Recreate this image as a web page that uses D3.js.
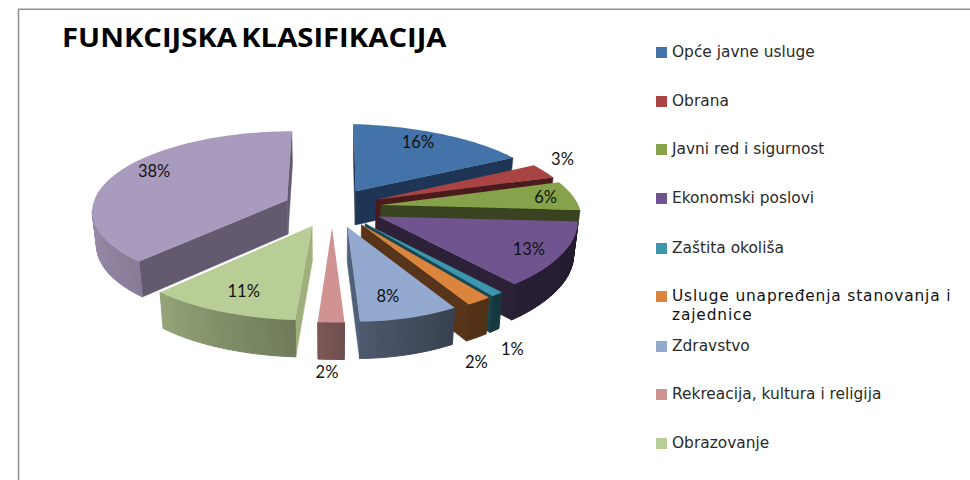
<!DOCTYPE html>
<html>
<head>
<meta charset="utf-8">
<script src="https://cdnjs.cloudflare.com/ajax/libs/d3/7.8.5/d3.min.js"></script>
<style>
  html, body { margin: 0; padding: 0; background: #fff; }
  svg { display: block; }
</style>
</head>
<body>
<div id="pie_chart"></div>
<script>
var chart_title = "FUNKCIJSKA KLASIFIKACIJA";

// legend has no row for the last slice, same as the original
var categories = ["Opće javne usluge", "Obrana", "Javni red i sigurnost", "Ekonomski poslovi",
                  "Zaštita okoliša", "Usluge unapređenja stanovanja i zajednice", "Zdravstvo",
                  "Rekreacija, kultura i religija", "Obrazovanje"];
var values = [16, 3, 6, 13, 1, 2, 8, 2, 11, 38];

var colors = ["#4373a8", "#a84443", "#86a34b", "#6f5490", "#3c96ae", "#db843d", "#93a9cf", "#d09392", "#b9cd96", "#a99bbd"];
var side_colors = ["#1f3555", "#4a1a1c", "#39431f", "#2d2138", "#1a4650", "#57341a", "#4f6079", "#75504f", "#a0b07c", "#635a70"];

var width = 970, height = 480;

// fake 3d: pie plane in perspective, every slice pushed out along its mid angle
var cx = 332, cy = 207.5,
    radius = 195, radius_right = 200, squash = 78.6, persp = 0.116, persp_back = 0.088,
    tilt = 5, explode = 0.25, depth = 34, depth_grow = 2, bottom_shrink = 0.982;

function project(u, v) {
  var w = 1 - persp * v;
  if (u >= 0) {
    // right half of the original leans down a bit and hardly widens in front
    var wx = v < 0 ? 1 - persp_back * v : 1;
    return [cx + radius_right * u / wx, cy + squash * v / w + tilt * u];
  }
  return [cx + radius * u / w, cy + squash * v / w];
}
function drop(p) {
  var v = (p[1] - cy) / squash;
  return [cx + (p[0] - cx) * bottom_shrink, p[1] + depth + depth_grow * v];
}

var pie = d3.pie().sort(null).value(function(d) { return d; });
var arcs = pie(values).map(function(a, i) {
  var mid = (a.startAngle + a.endAngle) / 2;
  var ou = explode * Math.sin(mid), ov = -explode * Math.cos(mid);
  return {i: i, value: a.value, start: a.startAngle, end: a.endAngle, mid: mid, ou: ou, ov: ov};
});

function rim(a, angle, f) {
  return project(a.ou + f * Math.sin(angle), a.ov - f * Math.cos(angle));
}

// wall brightness goes from dark on the right side to light on the left
var wallShade = d3.scaleLinear()
    .domain([90, 147, 176, 184, 223, 270])
    .range([0.30, 0.38, 0.52, 0.60, 0.80, 0.92]);

function shadeColor(col, f) {
  return d3.interpolateRgb("#000", col)(f);
}

var line = d3.line();
function poly(pts) { return line(pts) + "Z"; }

// true when pushing edge p->q down leaves the slice, so that wall can be seen
function faces(p, q, inside) {
  var ex = q[0] - p[0], ey = q[1] - p[1];
  var s1 = ex * (inside[1] - p[1]) - ey * (inside[0] - p[0]);
  var s2 = ex * depth;
  return s1 * s2 < 0;
}

var svg = d3.select("#pie_chart")
    .append("svg")
    .attr("width", width)
    .attr("height", height);

// frame, only top and left show
svg.append("path")
    .attr("d", "M18.5," + height + "V9.2H" + width)
    .attr("fill", "none")
    .attr("stroke", "#8f8f8f")
    .attr("stroke-width", 1.5);

// title font is narrower than the original, so stretch it
svg.append("text")
    .attr("transform", "translate(62,47) scale(1.125,1)")
    .attr("font-family", "Open Sans")
    .attr("font-weight", 700)
    .attr("font-size", 26)
    .attr("word-spacing", -3)
    .attr("fill", "#000")
    .text(chart_title);

var g_pie = svg.append("g");

// back slices first
var order = arcs.slice().sort(function(a, b) { return project(a.ou, a.ov)[1] - project(b.ou, b.ov)[1]; });

order.forEach(function(a) {
  var g = g_pie.append("g");
  var apex = project(a.ou, a.ov);
  var inner = rim(a, a.mid, 0.5);
  var steps = Math.max(4, Math.round((a.end - a.start) / 0.03));
  var rim_pts = d3.range(steps + 1).map(function(k) {
    return rim(a, a.start + (a.end - a.start) * k / steps, 1);
  });

  // flat cut sides
  [rim_pts[0], rim_pts[steps]].forEach(function(r) {
    if (faces(apex, r, inner)) {
      g.append("path")
        .attr("d", poly([apex, r, drop(r), drop(apex)]))
        .attr("fill", side_colors[a.i])
        .attr("stroke", side_colors[a.i])
        .attr("stroke-width", 0.5);
    }
  });

  // outer wall, cut in small pieces for the gradient
  d3.range(steps).forEach(function(k) {
    var p = rim_pts[k], q = rim_pts[k + 1];
    if (!faces(p, q, apex)) return;
    var deg = (a.start + (a.end - a.start) * (k + 0.5) / steps) * 180 / Math.PI;
    var col = shadeColor(colors[a.i], wallShade(deg));
    g.append("path")
      .attr("d", poly([p, q, drop(q), drop(p)]))
      .attr("fill", col)
      .attr("stroke", col)
      .attr("stroke-width", 1);
  });

  g.append("path")
    .attr("d", poly([apex].concat(rim_pts)))
    .attr("fill", colors[a.i]);
});

// labels: inside at f, the thin ones outside, nudged to where the original has them
var label_f = [0.72, 1.12, 0.82, 0.85, 1.25, 1.25, 0.72, 1.25, 0.62, 0.72];
var label_dx = [-1, -1, 7, -5, -18, -32, -4, -5, -14, -9];
var label_dy = [-7, -9, 0, 1, 35, 39, 6, 22, 15, -9];

svg.append("g").selectAll("text")
    .data(arcs)
    .enter().append("text")
    .attr("x", function(d) { return rim(d, d.mid, label_f[d.i])[0] + label_dx[d.i]; })
    .attr("y", function(d) { return rim(d, d.mid, label_f[d.i])[1] + label_dy[d.i]; })
    .attr("dy", "0.35em")
    .attr("text-anchor", "middle")
    .attr("font-family", "Lato")
    .attr("font-size", 16.5)
    .attr("fill", "#111")
    .text(function(d) { return d.value + "%"; });

// legend
var row_y = [52, 101, 149, 198, 248, 296, 346, 394, 443];
var g_legend = svg.append("g");

function legendText(y, spacing, col, txt) {
  g_legend.append("text")
    .attr("x", 672)
    .attr("y", y)
    .attr("dy", "0.35em")
    .attr("font-family", "DejaVu Sans")
    .attr("font-size", 15.4)
    .attr("letter-spacing", spacing)
    .attr("fill", col)
    .text(txt);
}

categories.forEach(function(name, i) {
  g_legend.append("rect")
    .attr("x", 656)
    .attr("y", row_y[i] - 5)
    .attr("width", 11)
    .attr("height", 11)
    .attr("fill", colors[i]);

  // the long one wraps on two lines and runs wider
  if (name.length > 35) {
    legendText(row_y[i], 0.85, "#111", name.slice(0, name.lastIndexOf(" ")));
    legendText(row_y[i] + 18.5, 0.85, "#111", name.slice(name.lastIndexOf(" ") + 1));
  } else {
    legendText(row_y[i], 0, "#2a2a2a", name);
  }
});
</script>
</body>
</html>
